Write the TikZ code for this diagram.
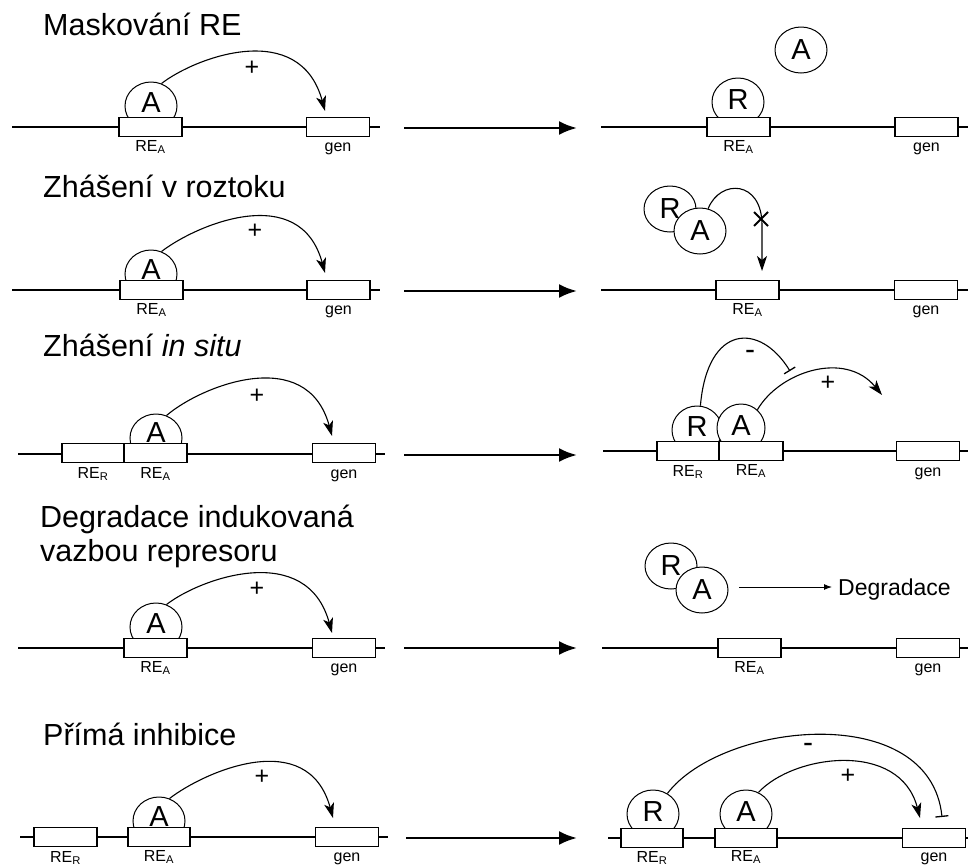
\documentclass[tikz,border=0pt]{standalone}
\usepackage{fontspec}
\setmainfont{Liberation Sans}
\usetikzlibrary{shapes.geometric,arrows.meta}
\begin{document}
\begin{tikzpicture}[x=1pt,y=-1pt,
 dna/.style={line width=1.1pt},
 prot/.style={ellipse,draw,fill=white,line width=1pt,minimum width=52pt,minimum height=46pt,inner sep=0pt,font=\fontsize{29}{29}\selectfont},
 bprot/.style={prot,minimum height=48pt},
 rebox/.style={draw,fill=white,line width=1.1pt,minimum width=63pt,minimum height=19pt,inner sep=0pt},
 lbl/.style={anchor=base,inner sep=0pt,font=\fontsize{16}{16}\selectfont},
 ttl/.style={anchor=base west,inner sep=0pt,font=\fontsize{30.5}{34}\selectfont},
 sgn/.style={inner sep=0pt,font=\fontsize{25}{25}\selectfont},
 msgn/.style={inner sep=0pt,font=\fontsize{30}{30}\selectfont},
 bigarrow/.style={line width=2.6pt,-{Latex[length=18pt,width=14pt]}},
 act/.style={line width=1.1pt,-{Stealth[length=15pt,width=10pt,inset=4pt]}},
 inh/.style={line width=1.1pt,-{Bar[width=13pt,line width=1.3pt]}},
 thinarrow/.style={line width=1pt,-{Latex[length=8pt,width=6pt]}},
 cross/.style={line width=2pt}
]
\useasboundingbox (0,0) rectangle (970,865);

% ================= Row 1 =================
\node[ttl] (t1) at (43,35) {Maskování RE};
\coordinate (d1l) at (12,127); \coordinate (d1r) at (380,127);
\draw[dna] (d1l) -- (d1r);
\node[bprot] (a1) at (151,106) {\raisebox{6pt}{A}};
\node[rebox] (re1) at (150.5,127) {};
\node[rebox] (g1) at (338,127) {};
\node[lbl] (re1l) at (150.5,151) {RE\textsubscript{A}};
\node[lbl] (g1l) at (338,151) {gen};
\coordinate (tip1) at (325,111);
\draw[act] (a1.65) .. controls +(35,-27) and +(-25,-92) .. (tip1);
\node[sgn] (p1) at (252,68) {+};

\coordinate (m1a) at (404,128); \coordinate (m1b) at (577,128);
\draw[bigarrow] (m1a) -- (m1b);

\coordinate (d1rl) at (601,127); \coordinate (d1rr) at (968,127);
\draw[dna] (d1rl) -- (d1rr);
\node[bprot] (r1r) at (738,102) {\raisebox{5pt}{R}};
\node[prot] (a1r) at (801,50) {A};
\node[rebox] (re1r) at (738.5,127) {};
\node[rebox] (g1r) at (926.5,127) {};
\node[lbl] (re1rl) at (738.5,151) {RE\textsubscript{A}};
\node[lbl] (g1rl) at (926.5,151) {gen};

% ================= Row 2 =================
\node[ttl] (t2) at (43,197) {Zhášení v roztoku};
\coordinate (d2l) at (12,290); \coordinate (d2r) at (380,290);
\draw[dna] (d2l) -- (d2r);
\node[bprot] (a2) at (151,274) {\raisebox{9pt}{A}};
\node[rebox] (re2) at (151.5,290) {};
\node[rebox] (g2) at (338.5,290) {};
\node[lbl] (re2l) at (151.5,314) {RE\textsubscript{A}};
\node[lbl] (g2l) at (338.5,314) {gen};
\coordinate (tip2) at (325,273);
\draw[act] (a2.65) .. controls +(35,-27) and +(-25,-92) .. (tip2);
\node[sgn] (p2) at (255,231) {+};

\coordinate (m2a) at (404,291); \coordinate (m2b) at (577,291);
\draw[bigarrow] (m2a) -- (m2b);

\coordinate (d2rl) at (601,290); \coordinate (d2rr) at (968,290);
\draw[dna] (d2rl) -- (d2rr);
\node[prot] (r2r) at (670,209) {R};
\node[prot] (a2r) at (700,231) {A};
\node[rebox] (re2r) at (747.5,290) {};
\node[rebox] (g2r) at (926,290) {};
\node[lbl] (re2rl) at (747.5,314) {RE\textsubscript{A}};
\node[lbl] (g2rl) at (926,314) {gen};
\coordinate (bend2) at (762,225);
\coordinate (tip2r) at (762,271);
\draw[act] (a2r.70) .. controls +(12,-30) and +(0,-45) .. (bend2) -- (tip2r);
\coordinate (x2c) at (761,219);
\draw[cross] ([shift={(-7,-7)}]x2c) -- ([shift={(7,7)}]x2c)
             ([shift={(-7,7)}]x2c) -- ([shift={(7,-7)}]x2c);

% ================= Row 3 =================
\node[ttl] (t3) at (43,356) {Zhášení \textit{in situ}};
\coordinate (d3l) at (18,454); \coordinate (d3r) at (385,454);
\draw[dna] (d3l) -- (d3r);
\node[bprot] (a3) at (156,438) {\raisebox{10pt}{A}};
\node[rebox,minimum width=62pt] (rer3) at (93,453) {};
\node[rebox] (rea3) at (155.5,453) {};
\node[rebox] (g3) at (344,453) {};
\node[lbl] (rer3l) at (93,478) {RE\textsubscript{R}};
\node[lbl] (rea3l) at (155.5,478) {RE\textsubscript{A}};
\node[lbl] (g3l) at (344,478) {gen};
\coordinate (tip3) at (332,436);
\draw[act] (a3.65) .. controls +(35,-30) and +(-25,-92) .. (tip3);
\node[sgn] (p3) at (257,396) {+};

\coordinate (m3a) at (404,455); \coordinate (m3b) at (577,455);
\draw[bigarrow] (m3a) -- (m3b);

\coordinate (d3rl) at (603,451); \coordinate (d3rr) at (968,451);
\draw[dna] (d3rl) -- (d3rr);
\node[bprot,minimum width=50pt] (r3r) at (697,430) {\raisebox{6pt}{R}};
\node[bprot,minimum width=48pt] (a3r) at (741,428) {\raisebox{5pt}{A}};
\node[rebox,minimum width=62pt] (rer3r) at (688,451) {};
\node[rebox,minimum width=64pt] (rea3r) at (751,451) {};
\node[rebox] (g3r) at (928,451) {};
\node[lbl] (rer3rl) at (688,476) {RE\textsubscript{R}};
\node[lbl] (rea3rl) at (751,475) {RE\textsubscript{A}};
\node[lbl] (g3rl) at (928,476) {gen};
\coordinate (bar3) at (790,371);
\draw[inh] (r3r.82) .. controls +(7,-82) and +(-30,-49) .. (bar3);
\node[msgn] (n3) at (750,355) {-};
\coordinate (tip3r) at (882,395);
\draw[act] (a3r.48) .. controls +(22,-38) and +(-37,-45) .. (tip3r);
\node[sgn] (p3r) at (828,383) {+};

% ================= Row 4 =================
\node[ttl] (t4a) at (40,527) {Degradace indukovaná};
\node[ttl] (t4b) at (40,561) {vazbou represoru};
\coordinate (d4l) at (18,648); \coordinate (d4r) at (385,648);
\draw[dna] (d4l) -- (d4r);
\node[bprot] (a4) at (156,627) {\raisebox{6pt}{A}};
\node[rebox] (rea4) at (155.5,648) {};
\node[rebox] (g4) at (344,648) {};
\node[lbl] (rea4l) at (155.5,672) {RE\textsubscript{A}};
\node[lbl] (g4l) at (344,672) {gen};
\coordinate (tip4) at (332,633);
\draw[act] (a4.65) .. controls +(35,-27) and +(-25,-92) .. (tip4);
\node[sgn] (p4) at (257,589) {+};

\coordinate (m4a) at (404,648); \coordinate (m4b) at (577,648);
\draw[bigarrow] (m4a) -- (m4b);

\coordinate (d4rl) at (602,648); \coordinate (d4rr) at (968,648);
\draw[dna] (d4rl) -- (d4rr);
\node[prot] (r4r) at (671,566) {R};
\node[prot] (a4r) at (702,590) {A};
\node[rebox] (rea4r) at (749.5,648) {};
\node[rebox] (g4r) at (928,648) {};
\node[lbl] (rea4rl) at (749.5,672) {RE\textsubscript{A}};
\node[lbl] (g4rl) at (928,672) {gen};
\node[anchor=base west,inner sep=0pt,font=\fontsize{23}{23}\selectfont] (deg) at (838,595) {Degradace};
\coordinate (dg1) at (739,587);
\draw[thinarrow] (dg1) -- ([xshift=-6pt]deg.west |- dg1);

% ================= Row 5 =================
\node[ttl] (t5) at (43,745) {Přímá inhibice};
\coordinate (d5l) at (20,837); \coordinate (d5r) at (388,837);
\draw[dna] (d5l) -- (d5r);
\node[bprot] (a5) at (159,821) {\raisebox{9pt}{A}};
\node[rebox] (rer5) at (65.5,837) {};
\node[rebox,minimum width=62pt] (rea5) at (159,837) {};
\node[rebox] (g5) at (347,837) {};
\node[lbl] (rer5l) at (65.5,862) {RE\textsubscript{R}};
\node[lbl] (rea5l) at (159,861) {RE\textsubscript{A}};
\node[lbl] (g5l) at (347,861) {gen};
\coordinate (tip5) at (333,818);
\draw[act] (a5.65) .. controls +(35,-27) and +(-25,-92) .. (tip5);
\node[sgn] (p5) at (262,777) {+};

\coordinate (m5a) at (406,838); \coordinate (m5b) at (577,838);
\draw[bigarrow] (m5a) -- (m5b);

\coordinate (d5rl) at (608,838); \coordinate (d5rr) at (968,838);
\draw[dna] (d5rl) -- (d5rr);
\node[bprot] (r5r) at (653,814) {\raisebox{5pt}{R}};
\node[bprot] (a5r) at (746,814) {\raisebox{5pt}{A}};
\node[rebox,minimum width=62pt] (rer5r) at (652,838) {};
\node[rebox,minimum width=62pt] (rea5r) at (746,838) {};
\node[rebox] (g5r) at (934,838) {};
\node[lbl] (rer5rl) at (652,862) {RE\textsubscript{R}};
\node[lbl] (rea5rl) at (746,861) {RE\textsubscript{A}};
\node[lbl] (g5rl) at (934,861) {gen};
\coordinate (bar5) at (942,817);
\draw[inh] (r5r.55) .. controls +(55,-72) and +(-12,-117) .. (bar5);
\node[msgn] (n5) at (808,748) {-};
\coordinate (tip5r) at (920,818);
\draw[act] (a5r.60) .. controls +(35,-38) and +(-20,-78) .. (tip5r);
\node[sgn] (p5r) at (848,776) {+};
\end{tikzpicture}
\end{document}
